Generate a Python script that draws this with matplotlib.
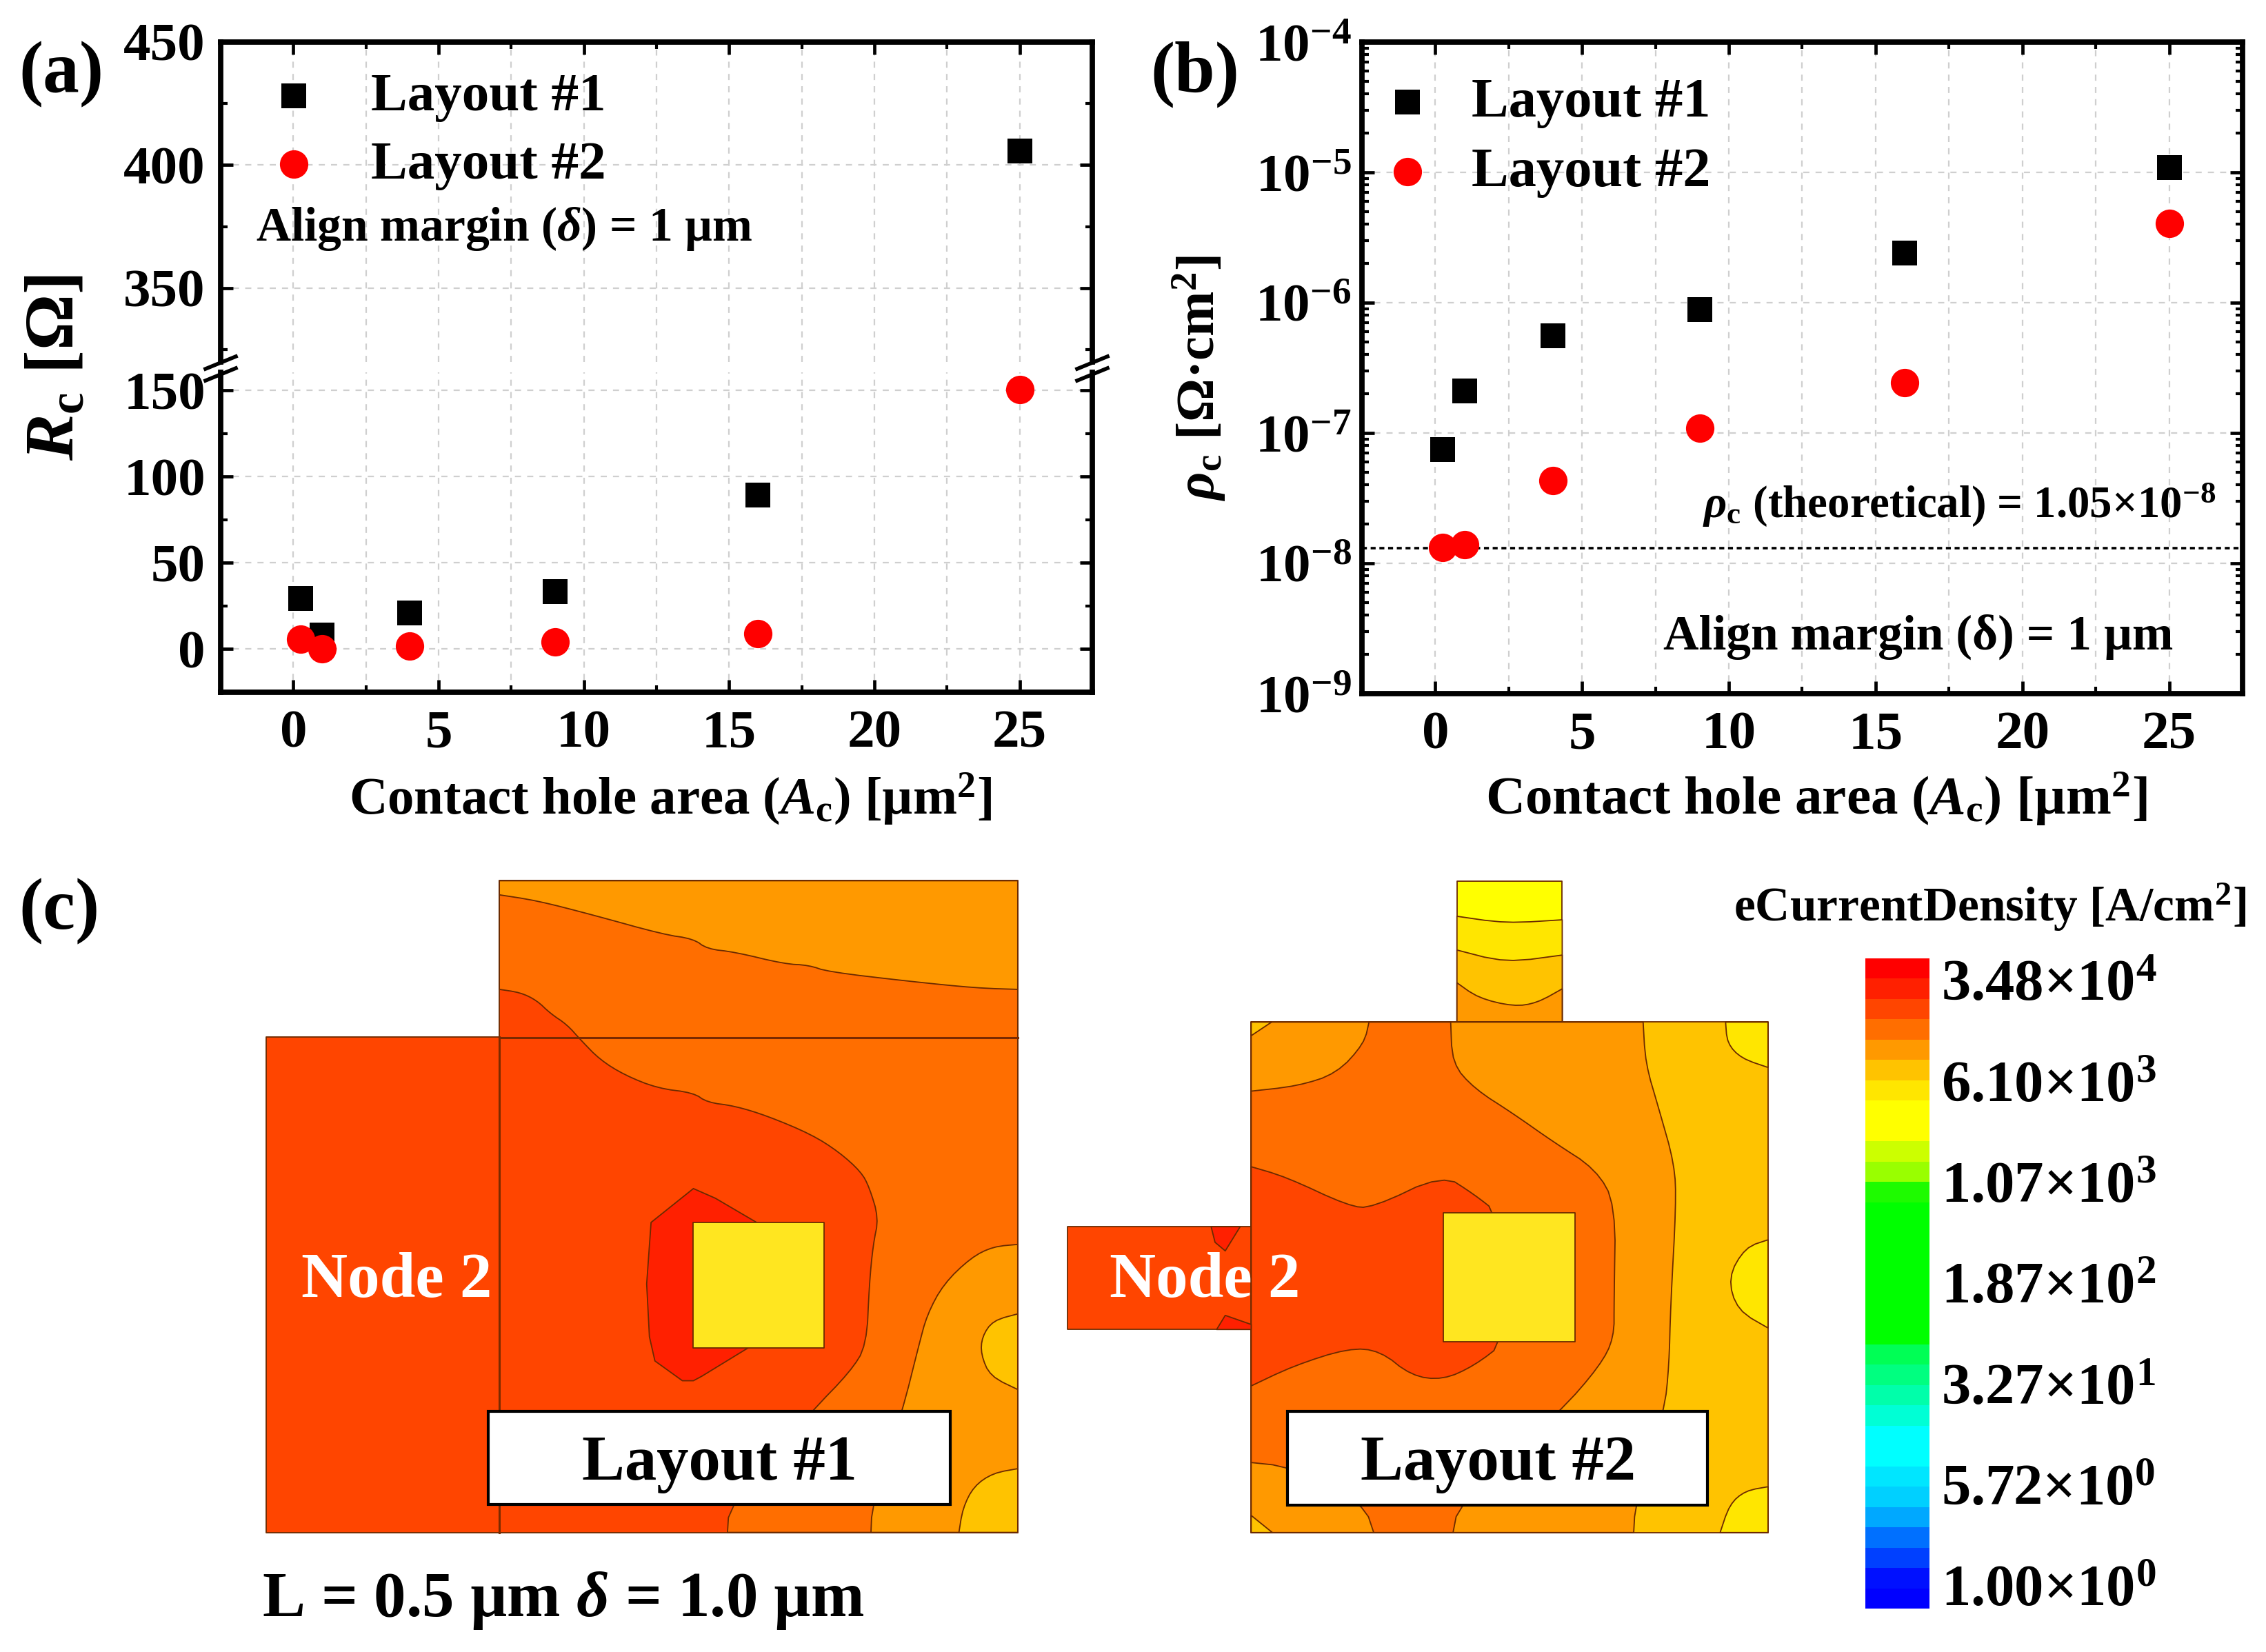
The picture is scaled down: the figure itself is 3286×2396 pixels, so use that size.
import numpy as np
import matplotlib
matplotlib.use("Agg")
import matplotlib.pyplot as plt
from matplotlib.colors import ListedColormap
from matplotlib.lines import Line2D
from matplotlib.patches import Rectangle
from matplotlib.ticker import FixedLocator, NullFormatter

plt.rcParams['font.family'] = ['Liberation Serif', 'DejaVu Sans']
plt.rcParams['font.weight'] = 'bold'
plt.rcParams['mathtext.fontset'] = 'custom'
plt.rcParams['mathtext.rm'] = 'Liberation Serif:bold'
plt.rcParams['mathtext.bf'] = 'Liberation Serif:bold'
plt.rcParams['mathtext.it'] = 'Liberation Serif:italic:bold'
plt.rcParams['mathtext.default'] = 'rm'

# ---------- data ----------
area = [0.25, 1, 4, 9, 16, 25]
rc_layout1 = [29.3, 8.3, 21, 33.4, 89.2, 405.8]
rc_layout2 = [5.7, 0.3, 1.6, 4.1, 8.9, 150.6]
rho_layout1 = [7.46e-8, 2.1e-7, 5.6e-7, 8.9e-7, 2.4e-6, 1.09e-5]
rho_layout2 = [1.32e-8, 1.39e-8, 4.3e-8, 1.09e-7, 2.42e-7, 4.06e-6]
rho_line = 1.3e-8
x_ticks = [0, 5, 10, 15, 20, 25]
x_minor = [2.5, 7.5, 12.5, 17.5, 22.5]
y_low_ticks = [0, 50, 100, 150]
y_low_minor = [25, 75, 125]
y_high_ticks = [350, 400, 450]
y_high_minor = [325, 375, 425]
rho_ticks = [1e-9, 1e-8, 1e-7, 1e-6, 1e-5, 1e-4]
rho_labels = [r'$10^{-9}$', r'$10^{-8}$', r'$10^{-7}$', r'$10^{-6}$', r'$10^{-5}$', r'$10^{-4}$']
series_names = ['Layout #1', 'Layout #2']

# colour scale, top to bottom
scale_colors = ['#FF0000', '#FF2000', '#FF4500', '#FF6E00', '#FF9900', '#FFC300', '#FFE600',
                '#FFFF00', '#FFFF00', '#CCFF00', '#99FF00', '#1EFB00', '#00FF00', '#00FF00',
                '#00FF00', '#00FF00', '#00FF00', '#00FF00', '#00FF00', '#00FF55', '#00FF80',
                '#00FFAA', '#00FFD5', '#00FFFF', '#00FFFF', '#00E6FF', '#00D0FF', '#00A8FF',
                '#0070FF', '#0040FF', '#0010FF', '#0000FF']
scale_labels = [('3.48', '4'), ('6.10', '3'), ('1.07', '3'), ('1.87', '2'),
                ('3.27', '1'), ('5.72', '0'), ('1.00', '0')]

C_RED, C_DEEP, C_ORANGE, C_AMBER, C_GOLD, C_YELLOW, C_LEMON = (
    '#FF2000', '#FF4500', '#FF6E00', '#FF9900', '#FFC300', '#FFE600', '#FFFF00')
C_CONTACT = '#FFE620'

# contour regions of layout 1 (layout units)
L1_outline = [(108, 399), (532, 399), (532, 43), (1475, 43), (1475, 1525), (108, 1525)]
L1_orange = [(532, 290), (570, 297), (600, 315), (625, 345), (655, 370), (680, 405), (715, 450),
             (760, 485), (820, 515), (885, 525), (910, 547), (960, 555), (1020, 578), (1100, 620),
             (1150, 660), (1190, 705), (1205, 740), (1222, 810), (1212, 870), (1205, 960),
             (1200, 1100), (1170, 1160), (1100, 1250), (950, 1465), (947, 1525), (1475, 1525),
             (1475, 43), (532, 43)]
L1_amber_top = [(532, 75), (600, 88), (700, 120), (830, 165), (885, 175), (910, 198), (960, 205),
                (1050, 232), (1095, 235), (1130, 250), (1280, 272), (1400, 287), (1475, 290),
                (1475, 43), (532, 43)]
L1_amber_right = [(1475, 870), (1430, 875), (1390, 900), (1340, 960), (1310, 1030), (1295, 1100),
                  (1265, 1250), (1210, 1465), (1208, 1525), (1475, 1525)]
L1_gold_right = [(1475, 1028), (1430, 1043), (1410, 1080), (1408, 1120), (1425, 1170), (1475, 1200)]
L1_gold_bottom = [(1475, 1380), (1430, 1390), (1395, 1420), (1375, 1470), (1368, 1525), (1475, 1525)]
L1_red = [(885, 743), (925, 765), (1000, 820), (1000, 1100), (985, 1105), (900, 1170), (885, 1180),
          (865, 1180), (815, 1135), (805, 1080), (800, 960), (808, 820)]
L1_contact = [(884, 820), (1123, 820), (1123, 1105), (884, 1105)]
L1_box = (512, 1250, 1352, 1462)
L1_edges_x = (532, 1475)
L1_edges_y = (43, 1525)

# contour regions of layout 2 (layout units)
L2_main = [(276, 318), (934, 318), (934, 1331), (276, 1331)]
L2_amber = [(775, 318), (778, 400), (795, 490), (815, 600), (817, 680), (810, 880), (808, 1000),
            (802, 1090), (765, 1275), (763, 1331), (276, 1331), (276, 318)]
L2_orange = [(426, 318), (530, 318), (532, 400), (560, 450), (610, 500), (660, 555), (715, 610),
             (740, 680), (738, 870), (738, 945), (720, 1000), (670, 1090), (540, 1275), (533, 1331),
             (432, 1331), (420, 1275), (325, 1200), (276, 1192), (276, 455), (335, 445), (385, 420),
             (420, 360)]
L2_deep = [(276, 605), (320, 625), (400, 683), (430, 687), (520, 620), (560, 660), (590, 697),
           (600, 952), (560, 1000), (520, 1028), (480, 1020), (440, 970), (400, 965), (330, 1000),
           (276, 1040)]
L2_stub_left = [(42, 724), (276, 724), (276, 928), (42, 928)]
L2_red_a = [(225, 724), (262, 724), (243, 772), (230, 755)]
L2_red_b = [(232, 928), (276, 928), (276, 918), (243, 900)]
L2_yellow_a = [(880, 318), (882, 360), (900, 390), (934, 408), (934, 318)]
L2_yellow_b = [(934, 750), (905, 765), (883, 825), (895, 890), (934, 925)]
L2_yellow_c = [(934, 1240), (905, 1248), (885, 1275), (873, 1331), (934, 1331)]
L2_gold_tip_a = [(276, 318), (302, 318), (276, 345)]
L2_gold_tip_b = [(276, 1297), (303, 1331), (276, 1331)]
L2_stub_top = [(538, 38), (672, 38), (672, 318), (538, 318)]
L2_stub_yellow = [(538, 108), (600, 122), (672, 115), (672, 318), (538, 318)]
L2_stub_gold = [(538, 175), (600, 200), (672, 185), (672, 318), (538, 318)]
L2_stub_amber = [(538, 240), (565, 270), (610, 287), (640, 280), (672, 252), (672, 318), (538, 318)]
L2_contact = [(521, 697), (688, 697), (688, 952), (521, 952)]
L2_box = (322, 1090, 857, 1276)
L2_edges_x = (276, 934, 538, 672)
L2_edges_y = (318, 1331)

# ---------- figure ----------
W, H = 3286, 2396
fig = plt.figure(figsize=(W / 100, H / 100), dpi=100, facecolor='white')


def rect(l, t, r, b):
    return [l / W, 1 - b / H, (r - l) / W, (b - t) / H]


def label(x, y, s, size, ha='center', color='k', rotation=0, **kw):
    return fig.text(x / W, 1 - y / H, s, fontsize=size, ha=ha, va='center', color=color,
                    rotation=rotation, fontweight='bold', **kw)


SPINE = 5.6
TICK = dict(which='major', direction='in', length=13, width=3.4, labelsize=57)
TICKM = dict(which='minor', direction='in', length=7.5, width=3.0)
MS, MC = 680, 880


def base_axes(a):
    for s in a.spines.values():
        s.set_linewidth(SPINE)
    a.tick_params(**TICK)
    a.tick_params(**TICKM)
    a.xaxis.set_major_locator(FixedLocator(x_ticks))
    a.xaxis.set_minor_locator(FixedLocator(x_minor))
    a.xaxis.set_minor_formatter(NullFormatter())
    a.set_xlim(-2.5, 27.5)
    a.grid(True, axis='x', which='both', color='#cfcfcf', ls=(0, (4, 4)), lw=1.6)
    a.grid(True, axis='y', which='major', color='#cfcfcf', ls=(0, (4, 4)), lw=1.6)
    a.set_axisbelow(True)
    a.tick_params(axis='both', which='both', left=True, right=True, top=True, bottom=True)
    a.tick_params(axis='x', pad=18)
    a.tick_params(axis='y', pad=16)


# --- panel (a): broken axis
BREAK_HI, BREAK_LO = 525, 540
ax_hi = fig.add_axes(rect(320, 61, 1584, BREAK_HI))
ax_lo = fig.add_axes(rect(320, BREAK_LO, 1584, 1004))
for a in (ax_hi, ax_lo):
    base_axes(a)
    a.scatter(area, rc_layout1, marker='s', s=MS, color='k', lw=0, zorder=3, label=series_names[0])
    a.scatter(area, rc_layout2, marker='o', s=MC, color='#FF0000', lw=0, zorder=4, label=series_names[1])
ax_hi.set_ylim(320, 450)
ax_hi.yaxis.set_major_locator(FixedLocator(y_high_ticks))
ax_hi.yaxis.set_minor_locator(FixedLocator(y_high_minor))
ax_hi.yaxis.set_minor_formatter(NullFormatter())
ax_hi.spines['bottom'].set_visible(False)
ax_hi.tick_params(axis='x', which='both', bottom=False, labelbottom=False)
ax_lo.set_ylim(-25, 160.5)
ax_lo.yaxis.set_major_locator(FixedLocator(y_low_ticks))
ax_lo.yaxis.set_minor_locator(FixedLocator(y_low_minor))
ax_lo.yaxis.set_minor_formatter(NullFormatter())
ax_lo.spines['top'].set_visible(False)
ax_lo.tick_params(axis='x', which='both', top=False)

for xpx in (320, 1584):
    for ypx in (526, 543):
        fig.add_artist(Line2D([(xpx - 22) / W, (xpx + 22) / W], [1 - (ypx + 9) / H, 1 - (ypx - 9) / H],
                              color='k', lw=4, transform=fig.transFigure))

ax_hi.legend(loc='upper left', bbox_to_anchor=(0.0, 0.958), frameon=False, fontsize=57, borderpad=0.2,
             borderaxespad=0.1, handlelength=2.08, handletextpad=0.38, labelspacing=0.34, scatterpoints=1)

label(731, 332, r'Align margin ($\mathit{\delta}$) = 1 µm', 50)
label(83, 533, r'$\mathit{R}_{\mathrm{c}}$ [Ω]', 73, rotation=90)
label(972, 1159, r'Contact hole area ($\mathit{A}_{\mathrm{c}}$) [µm$^{2}$]', 55.4)
label(27, 108, '(a)', 76, ha='left')

# --- panel (b)
ax_b = fig.add_axes(rect(1975, 61, 3252, 1006))
base_axes(ax_b)
ax_b.set_yscale('log')
ax_b.set_ylim(1e-9, 1e-4)
ax_b.set_yticks(rho_ticks)
ax_b.set_yticklabels(rho_labels)
ax_b.yaxis.set_minor_formatter(NullFormatter())
ax_b.tick_params(axis='y', pad=11)
ax_b.axhline(rho_line, color='k', lw=2.6, ls=(0, (2, 1.5)), zorder=2)
ax_b.scatter(area, rho_layout1, marker='s', s=MS, color='k', lw=0, zorder=3, label=series_names[0])
ax_b.scatter(area, rho_layout2, marker='o', s=MC, color='#FF0000', lw=0, zorder=4, label=series_names[1])
ax_b.legend(loc='upper left', bbox_to_anchor=(0.0, 0.971), frameon=False, fontsize=58, borderpad=0.2,
            borderaxespad=0.1, handlelength=1.04, handletextpad=0.64, labelspacing=0.34, scatterpoints=1)

label(2782, 924, 'Align margin (δ) = 1 µm', 51.4)
label(2841, 732, r'$\mathit{\rho}_{\mathrm{c}}$ (theoretical) = 1.05×10$^{-8}$', 46.6)
label(1739, 548, r'$\mathit{\rho}_{\mathrm{c}}$ [Ω·cm$^{2}$]', 56.5, rotation=90)
label(2634, 1159, r'Contact hole area ($\mathit{A}_{\mathrm{c}}$) [µm$^{2}$]', 57)
label(1668, 108, '(b)', 76, ha='left')

# --- panel (c): layout maps
EDGE = '#6b2a00'


def smoothed(pts, xs_fixed, ys_fixed, rounds=2):
    """Round the contour corners, leaving vertices on the layout edges in place."""
    for _ in range(rounds):
        out = []
        n = len(pts)
        for i, (x, y) in enumerate(pts):
            if x in xs_fixed or y in ys_fixed:
                out.append((x, y))
                continue
            px, py = pts[i - 1]
            nx, ny = pts[(i + 1) % n]
            out.append((x + (px - x) / 4, y + (py - y) / 4))
            out.append((x + (nx - x) / 4, y + (ny - y) / 4))
        pts = out
    return pts


def region(a, pts, color, lw=1.3):
    xs, ys = zip(*pts)
    a.fill(xs, ys, facecolor=color, edgecolor=EDGE, lw=lw, joinstyle='round')


def layout_axes(l, t, r, b):
    a = fig.add_axes(rect(l, t, r, b))
    a.set_xlim(0, 1568)
    a.set_ylim(1568, 0)
    a.axis('off')
    return a


def s1(pts):
    return smoothed(pts, L1_edges_x, L1_edges_y)


def s2(pts):
    return smoothed(pts, L2_edges_x, L2_edges_y)


ax1 = layout_axes(300, 1250, 1550, 2250)
region(ax1, L1_outline, C_DEEP)
region(ax1, s1(L1_orange), C_ORANGE)
region(ax1, s1(L1_amber_top), C_AMBER)
region(ax1, s1(L1_amber_right), C_AMBER)
region(ax1, s1(L1_gold_right), C_GOLD)
region(ax1, s1(L1_gold_bottom), C_GOLD)
region(ax1, L1_red, C_RED)
region(ax1, L1_contact, C_CONTACT)
ax1.plot([532, 1475], [400, 400], color='#7a2a00', lw=2.2)
ax1.plot([532, 532], [399, 1525], color='#7a2a00', lw=2.2)
ax1.add_patch(Rectangle((L1_box[0], L1_box[1]), L1_box[2] - L1_box[0], L1_box[3] - L1_box[1],
                        facecolor='white', edgecolor='k', lw=3, zorder=5))

ax2 = layout_axes(1500, 1250, 3286, 2396)
region(ax2, L2_stub_top, C_LEMON)
region(ax2, s2(L2_stub_yellow), C_YELLOW)
region(ax2, s2(L2_stub_gold), C_GOLD)
region(ax2, s2(L2_stub_amber), C_AMBER)
region(ax2, L2_main, C_GOLD)
region(ax2, s2(L2_amber), C_AMBER)
region(ax2, s2(L2_orange), C_ORANGE)
region(ax2, s2(L2_deep), C_DEEP)
region(ax2, L2_stub_left, C_DEEP)
region(ax2, L2_red_a, C_RED)
region(ax2, L2_red_b, C_RED)
region(ax2, s2(L2_yellow_a), C_YELLOW)
region(ax2, s2(L2_yellow_b), C_YELLOW)
region(ax2, s2(L2_yellow_c), C_YELLOW)
region(ax2, L2_gold_tip_a, C_GOLD)
region(ax2, L2_gold_tip_b, C_GOLD)
region(ax2, L2_contact, C_CONTACT)
ax2.add_patch(Rectangle((L2_box[0], L2_box[1]), L2_box[2] - L2_box[0], L2_box[3] - L2_box[1],
                        facecolor='white', edgecolor='k', lw=3, zorder=5))

label(27, 1322, '(c)', 76, ha='left')
label(575, 1858, 'Node 2', 67, color='white')
label(1747, 1858, 'Node 2', 67, color='white')
label(1043, 2124, series_names[0], 66.8)
label(2173, 2124, series_names[1], 66.8)
label(380, 2322, r'L = 0.5 µm $\mathit{\delta}$ = 1.0 µm', 67, ha='left')

# --- colour scale
ax_cb = fig.add_axes(rect(2705, 1390, 2798, 2333))
levels = np.arange(len(scale_colors) + 1)
ax_cb.pcolormesh([0, 1], levels, np.arange(len(scale_colors))[:, None],
                 cmap=ListedColormap(scale_colors), shading='flat')
ax_cb.set_ylim(len(scale_colors), 0)
ax_cb.axis('off')

for i, (mant, exp) in enumerate(scale_labels):
    ypx = 1431 + i * 146.3
    label(2815, ypx, '%s×10$^{%s}$' % (mant, exp), 61, ha='left')
label(2886, 1316, 'eCurrentDensity [A/cm$^{2}$]', 50)

fig.savefig('out.png', dpi=100, facecolor='white')
